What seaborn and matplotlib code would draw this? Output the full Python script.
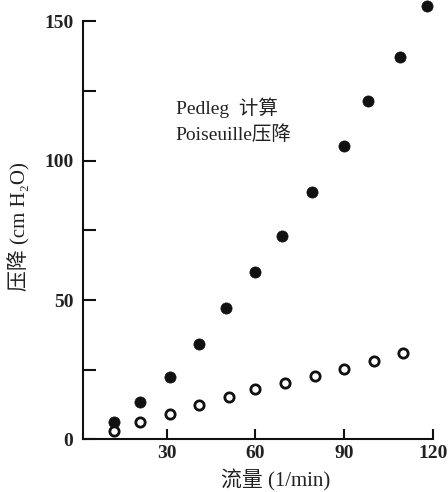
import pandas as pd
import numpy as np
import matplotlib.pyplot as plt
import seaborn as sns

sns.set_style('white')
plt.rcParams['font.family'] = ['Liberation Serif', 'Noto Sans CJK SC']

# values
flow_calc = [12, 21, 31, 41, 50, 60, 69, 79, 90, 98, 109, 118]
dp_calc = [6.2, 13.3, 22.3, 34.2, 47, 60.2, 73.1, 88.7, 105.4, 121.4, 137.3, 155.7]
flow_pois = [12, 21, 31, 41, 51, 60, 70, 80, 90, 100, 110]
dp_pois = [3.1, 6.3, 9.1, 12.4, 15.3, 18.1, 20.3, 22.7, 25.3, 28, 31]

x_ticks = [30, 60, 90, 120]
y_ticks = [0, 50, 100, 150]
y_minor = [25, 75, 125]

df_calc = pd.DataFrame({'flow': flow_calc, 'dp': dp_calc})
df_pois = pd.DataFrame({'flow': flow_pois, 'dp': dp_pois})

fig = plt.figure(figsize=(4.48, 4.92), dpi=100)
ax = fig.add_axes([0.1853, 0.1071, 0.7805, 0.8929])

sns.scatterplot(x='flow', y='dp', data=df_calc, ax=ax, color='#111111',
                s=65, edgecolor='#111111', linewidth=0.5, clip_on=False)
sns.scatterplot(x='flow', y='dp', data=df_pois, ax=ax, facecolor='white',
                s=45, edgecolor='#111111', linewidth=2.0, clip_on=False)

ax.set_xlim(1.6, 120)
ax.set_ylim(0, 157.7)
ax.spines['top'].set_visible(False)
ax.spines['right'].set_visible(False)
ax.spines['left'].set_bounds(0, 150)
ax.spines['bottom'].set_bounds(1.6, 120)
for s in ['left', 'bottom']:
    ax.spines[s].set_linewidth(1.5)
    ax.spines[s].set_color('#111111')

ax.set_xticks(x_ticks)
ax.set_yticks(y_ticks)
ax.set_yticks(y_minor, minor=True)
ax.tick_params(axis='y', which='both', direction='in', length=9, width=1.5,
               color='#111111', labelsize=14, pad=7, left=True)
ax.tick_params(axis='x', which='both', direction='in', length=7, width=1.5,
               color='#111111', labelsize=14, pad=4, bottom=True)
for lab in ax.get_yticklabels() + ax.get_xticklabels():
    lab.set_fontweight('bold')
    lab.set_color('#222222')

ax.set_xlabel('流量 (1/min)', fontsize=15, color='#222222')
ax.xaxis.set_label_coords(0.55, -0.068)
ax.set_ylabel('压降 (cm H₂O)', fontsize=15, color='#222222')
ax.yaxis.set_label_coords(-0.15, 0.485)

ax.text(0.265, 0.755, 'Pedleg  计算', transform=ax.transAxes, fontsize=14,
        color='#222222', va='center')
ax.text(0.265, 0.693, 'Poiseuille压降', transform=ax.transAxes, fontsize=14,
        color='#222222', va='center')

plt.savefig('out.png', dpi=100)
